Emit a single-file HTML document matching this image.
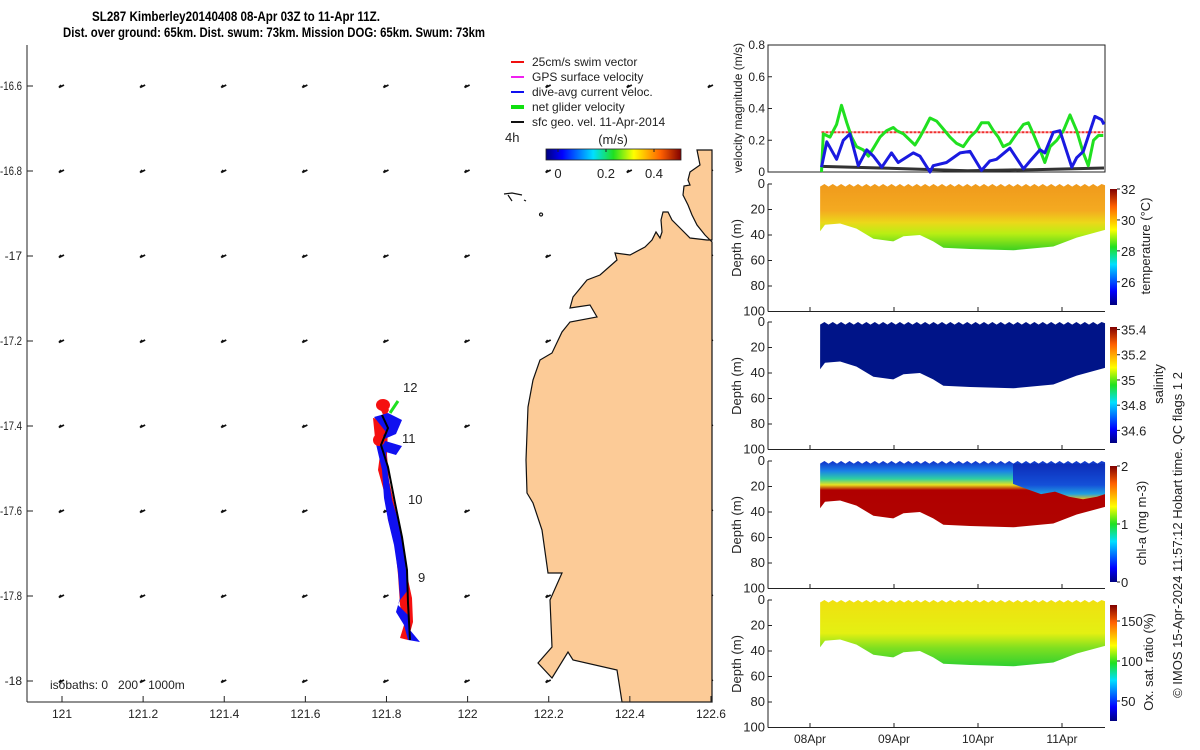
<!DOCTYPE html>
<html><head><meta charset="utf-8"><style>
body{margin:0;background:#fff;}
svg{display:block;font-family:"Liberation Sans",sans-serif;}
.t{font-size:13px;fill:#222;}
.s{font-size:12px;fill:#222;}
</style></head><body>
<svg id="fig" width="1200" height="750" viewBox="0 0 1200 750">
<defs>
<linearGradient id="jet" x1="0" y1="0" x2="1" y2="0">
<stop offset="0" stop-color="#00007f"/><stop offset="0.12" stop-color="#0000ff"/><stop offset="0.35" stop-color="#00dfff"/><stop offset="0.5" stop-color="#20e020"/><stop offset="0.65" stop-color="#ffff00"/><stop offset="0.85" stop-color="#ff6000"/><stop offset="1" stop-color="#800000"/></linearGradient>
<linearGradient id="jetv" x1="0" y1="1" x2="0" y2="0">
<stop offset="0" stop-color="#00007f"/><stop offset="0.12" stop-color="#0000ff"/><stop offset="0.35" stop-color="#00dfff"/><stop offset="0.5" stop-color="#20e020"/><stop offset="0.65" stop-color="#ffff00"/><stop offset="0.85" stop-color="#ff6000"/><stop offset="1" stop-color="#800000"/></linearGradient>
<linearGradient id="gTemp" x1="0" y1="0" x2="0" y2="1">
<stop offset="0" stop-color="#f09a1c"/><stop offset="0.4" stop-color="#f4aa20"/><stop offset="0.58" stop-color="#ecd81a"/><stop offset="0.75" stop-color="#b8ee14"/><stop offset="1" stop-color="#3cd020"/></linearGradient>
<linearGradient id="gChl" x1="0" y1="0" x2="0" y2="1">
<stop offset="0" stop-color="#1030c8"/><stop offset="0.15" stop-color="#1a80e8"/><stop offset="0.27" stop-color="#30d0a0"/><stop offset="0.36" stop-color="#e8e020"/><stop offset="0.44" stop-color="#b00000"/><stop offset="1" stop-color="#b00400"/></linearGradient>
<linearGradient id="gChl2" x1="0" y1="0" x2="0" y2="1">
<stop offset="0" stop-color="#0c2cb8"/><stop offset="0.6" stop-color="#1450d8"/><stop offset="0.85" stop-color="#20a0e0"/><stop offset="1" stop-color="#e8c020"/></linearGradient>
<linearGradient id="gOx" x1="0" y1="0" x2="0" y2="1">
<stop offset="0" stop-color="#f0e010"/><stop offset="0.5" stop-color="#e4f012"/><stop offset="0.72" stop-color="#80e020"/><stop offset="1" stop-color="#30d030"/></linearGradient>
</defs>

<text x="236" y="21" text-anchor="middle" font-weight="bold" font-size="14" textLength="288" lengthAdjust="spacingAndGlyphs">SL287 Kimberley20140408 08-Apr 03Z to 11-Apr 11Z.</text>
<text x="274" y="37" text-anchor="middle" font-weight="bold" font-size="14" textLength="422" lengthAdjust="spacingAndGlyphs">Dist. over ground: 65km. Dist. swum: 73km. Mission DOG: 65km. Swum: 73km</text>

<g id="map"></g>
<g id="vel"></g>
<g id="sect"></g>

<text transform="translate(1182,535) rotate(-90)" text-anchor="middle" class="t" font-size="13.5">© IMOS 15-Apr-2024 11:57:12 Hobart time. QC flags 1  2</text>
</svg>
<script>
// ---------- data ----------
const lonTicks=[121,121.2,121.4,121.6,121.8,122,122.2,122.4,122.6];
const latTicks=[-16.6,-16.8,-17,-17.2,-17.4,-17.6,-17.8,-18];
const greenT=[3.3,3.8,5.7,7.6,9.0,10.5,11.9,13.3,15.2,16.7,18.1,20,21.9,23.8,24.8,26.7,28.6,30,31.4,32.9,34.3,36.2,38.1,40,41.9,43.8,45.7,47.6,49,51,52.4,53.8,55.2,57.1,59,61,62.4,63.8,65.7,67.1,68.6,70.5,72.4,74.3,76.2,78.1,79.5,81,82.4,83.8];
const greenV=[0,0.24,0.22,0.3,0.42,0.31,0.22,0.16,0.14,0.1,0.15,0.22,0.26,0.28,0.26,0.24,0.2,0.17,0.22,0.28,0.34,0.32,0.27,0.22,0.18,0.16,0.22,0.26,0.31,0.31,0.26,0.22,0.16,0.18,0.24,0.3,0.31,0.24,0.14,0.06,0.16,0.2,0.26,0.36,0.26,0.12,0.04,0.2,0.23,0.23];
const blueT=[3.3,4.8,7.6,9.5,11.4,13.8,16.2,18.1,20.5,23.3,25.2,29.5,31.4,34.3,35.2,39,42.9,45.7,49,51.4,53.3,57.1,61,62.9,65.7,67.1,69.5,71.4,74.8,76.2,78.1,81.4,83.3,84];
const blueV=[0.03,0.19,0.08,0.2,0.24,0.04,0.14,0.1,0.03,0.12,0.06,0.12,0.1,0,0.04,0.06,0.12,0.13,0.01,0.07,0.08,0.15,0.02,0.07,0.14,0.12,0.25,0.26,0.03,0.09,0.13,0.35,0.33,0.3];
const geoT=[3.3,20,45,65,84];
const geoV=[0.035,0.025,0.008,0.015,0.025];
const swimV=0.25;
const velTicks=[0,0.2,0.4,0.6,0.8];
const depthTicks=[0,20,40,60,80,100];
const dayLabels=["08Apr","09Apr","10Apr","11Apr"];
const profT=[2.9,4.3,8.6,13.3,18.1,23.8,26.7,31.4,35.2,38.1,45.7,58.1,69.5,76.2,84.3];
const profD=[37,32,31,35,43,45,41,40,45,50,51,52,49,42,36];
const chlBlueT=[58,62,66,70,74,78,82,84.3];
const chlBlueD=[18,22,26,24,28,30,28,26];
const tempTicks=[26,28,30,32], salTicks=[34.6,34.8,35,35.2,35.4], chlTicks=[0,1,2], oxTicks=[50,100,150];

const NS="http://www.w3.org/2000/svg";
function mk(parent,tag,attrs,txt){const e=document.createElementNS(NS,tag);for(const k in attrs)e.setAttribute(k,attrs[k]);if(txt!==undefined)e.textContent=txt;parent.appendChild(e);return e;}

// ---------- map ----------
const map=document.getElementById('map');
const lx=l=>62+(l-121)*405.6, ly=l=>86+(-16.6-l)*425;
for(const lo of lonTicks){for(const la of latTicks){
 const x=lx(lo),y=ly(la);
 const q=mk(map,'path',{d:`M${x+2},${y-1} L${x-3},${y+1.5} M${x-3},${y+1.5} L${x-1},${y-1}`,stroke:'#111','stroke-width':1.8,fill:'none'});
 
 
}}
const land=mk(map,'path',{d:"M697,150 L700,165 L690,172 L688,180 L690,185 L684,186 L683,195 L688,205 L692,215 L697,225 L705,235 L712,242 L712,702 L622,702 L617,670 L573,660 L568,652 L552,678 L538,663 L552,647 L550,600 L562,573 L548,573 L542,530 L533,503 L527,493 L526,460 L527,433 L528,407 L533,380 L540,360 L552,353 L562,332 L570,322 L597,317 L590,305 L570,308 L573,297 L587,280 L600,275 L617,260 L615,253 L630,255 L645,247 L652,240 L656,232 L660,238 L662,232 L661,220 L663,212 L668,212 L672,220 L680,228 L690,238 L707,240 L712,240 L712,150 Z",fill:'#fccb97',stroke:'#111','stroke-width':1.2});


mk(map,'path',{d:"M504,194 L512,193 L522,195 M508,195 L512,201 M524,200 L526,201 M541,213 a1.5,1.5 0 1 0 0.1,0",fill:'none',stroke:'#111','stroke-width':1.2});
const trk=mk(map,'g',{});


mk(trk,'path',{d:"M377,402 L384,400 L389,410 L384,420 L373,418 L375,438 L381,447 L378,470 L385,495 L388,520 L395,545 L398,575 L400,605 L404,625 L400,638 L408,640 L413,622 L412,598 L406,570 L402,540 L396,512 L389,480 L387,455 L388,425 Z",fill:'#f51010'});
mk(trk,'path',{d:"M374,417 L388,413 L402,420 L396,434 L382,440 L402,446 L396,455 L386,452 L388,475 L392,500 L398,520 L404,550 L408,590 L400,600 L398,605 L408,615 L410,630 L420,642 L408,640 L404,625 L396,612 L400,598 L398,572 L394,545 L388,520 L384,498 L382,470 L376,444 L386,432 Z",fill:'#1010f0'});
mk(trk,'path',{d:"M376,405 a7,6 0 1 0 14,0 a7,6 0 1 0 -14,0",fill:'#f51010'});
mk(trk,'path',{d:"M373,440 a6,6 0 1 0 12,0 a6,6 0 1 0 -12,0",fill:'#f51010'});
mk(trk,'path',{d:"M382,415 L388,428 L381,445 L388,467 L395,503 L402,537 L407,570 L408,603 L410,640",fill:'none',stroke:'#000','stroke-width':2});
mk(trk,'line',{x1:390,y1:413,x2:398,y2:401,stroke:'#20e020','stroke-width':3});
[["12",403,392],["11",402,443],["10",408,504],["9",418,582]].forEach(a=>{const t=mk(map,'text',{x:a[1],y:a[2],class:'t'},a[0]);});
mk(map,'line',{x1:27,y1:45,x2:27,y2:702,stroke:'#222'});
mk(map,'line',{x1:27,y1:702,x2:712,y2:702,stroke:'#222'});
for(const lo of lonTicks){const x=lx(lo);mk(map,'line',{x1:x,y1:702,x2:x,y2:696,stroke:'#222'});
 const t=mk(map,'text',{x:x,y:718,'text-anchor':'middle',class:'s'},String(lo));
 
 }
for(const la of latTicks){const y=ly(la);mk(map,'line',{x1:27,y1:y,x2:33,y2:y,stroke:'#222'});
 const s=String(la);
 const t=mk(map,'text',{x:22,y:y+4,'text-anchor':'end',class:'s'},s);
 if(s.length>3){t.setAttribute('textLength','22');t.setAttribute('lengthAdjust','spacingAndGlyphs');}
 
 }
const iso=mk(map,'text',{x:50,y:689,class:'s',style:'white-space:pre'},"isobaths: 0   200   1000m");


const leg=[["#f01010","25cm/s swim vector",2],["#f020f0","GPS surface velocity",2],["#1010f0","dive-avg current veloc.",2],["#10e010","net glider velocity",4],["#111","sfc geo. vel. 11-Apr-2014",2]];
leg.forEach((l,i)=>{const y=62+i*15;const g=mk(map,'g',{});
 
 
 mk(g,'line',{x1:511,y1:y,x2:524,y2:y,stroke:l[0],'stroke-width':l[2]});
 mk(g,'text',{x:532,y:y+4,class:'s'},l[1]);});
mk(map,'text',{x:505,y:142,class:'t'},"4h");
mk(map,'text',{x:613,y:144,'text-anchor':'middle',class:'t','font-size':15},"(m/s)");
const cb=mk(map,'rect',{x:546,y:149,width:135,height:11,fill:'url(#jet)',stroke:'#222','stroke-width':0.8});


[["0",558],["0.2",606],["0.4",654]].forEach(a=>{mk(map,'text',{x:a[1],y:178,'text-anchor':'middle',class:'t'},a[0]);mk(map,'line',{x1:a[1],y1:149,x2:a[1],y2:152,stroke:'#222'});});

// ---------- velocity panel ----------
const vel=document.getElementById('vel');
const tx=t=>810+t*3.5;
const vy=v=>172-v/0.8*127;
mk(vel,'rect',{x:768,y:45,width:337,height:127,fill:'none',stroke:'#222'});
for(const v of velTicks){mk(vel,'line',{x1:768,y1:vy(v),x2:772,y2:vy(v),stroke:'#222'});
 const t=mk(vel,'text',{x:765,y:vy(v)+4,'text-anchor':'end',class:'s'},String(v));
 
 }
const vl=mk(vel,'text',{transform:'translate(742,108) rotate(-90)','text-anchor':'middle',class:'s'},"velocity magnitude (m/s)");


function line(ts,vs,col,w,name,dash){const p=ts.map((t,i)=>(i?'L':'M')+tx(t).toFixed(1)+','+vy(vs[i]).toFixed(1)).join(' ');
 const e=mk(vel,'path',{d:p,fill:'none',stroke:col,'stroke-width':w,'stroke-linejoin':'round'});if(dash)e.setAttribute('stroke-dasharray',dash);
 
 }
line([greenT[0],greenT[greenT.length-1]],[swimV,swimV],'#f03030',2,'swim-speed-line','3,1');
line(geoT,geoV,'#333',3,'geo-velocity-line');
line(greenT,greenV,'#20e020',3,'net-glider-velocity-line');
line(blueT,blueV,'#1a1ae0',3,'dive-avg-current-line');

// ---------- section panels ----------
const sect=document.getElementById('sect');
const panels=[{top:184,fill:'url(#gTemp)',ticks:tempTicks,lo:24.5,hi:32,label:"temperature (°C)",lx:1150,name:'temperature'},
 {top:322,fill:'#001488',ticks:salTicks,lo:34.5,hi:35.42,label:"salinity",lx:1163,name:'salinity'},
 {top:461,fill:'url(#gChl)',ticks:chlTicks,lo:0,hi:2,label:"chl-a (mg m-3)",lx:1146,name:'chlorophyll'},
 {top:600,fill:'url(#gOx)',ticks:oxTicks,lo:25,hi:170,label:"Ox. sat. ratio (%)",lx:1153,name:'oxygen'}];
panels.forEach((P,pi)=>{
 const g=mk(sect,'g',{});
 
 
 const dy=d=>P.top+d*1.275;
 let d='M'+tx(profT[0])+','+dy(1);
 for(let t=profT[0];t<84.3;t+=1.2){d+=' L'+tx(t).toFixed(1)+','+dy((Math.round(t/1.2)%2)?0:2).toFixed(1);}
 d+=' L'+tx(84.3)+','+dy(1);
 for(let i=profT.length-1;i>=0;i--)d+=' L'+tx(profT[i]).toFixed(1)+','+dy(profD[i]).toFixed(1);
 d+=' Z';
 const area=mk(g,'path',{d:d,fill:P.fill});
 
 
 if(P.name==='chlorophyll'){
  let d2='M'+tx(chlBlueT[0])+','+dy(2);
  d2+=' L'+tx(84.3)+','+dy(2);
  for(let i=chlBlueT.length-1;i>=0;i--)d2+=' L'+tx(chlBlueT[i]).toFixed(1)+','+dy(chlBlueD[i]).toFixed(1);
  d2+=' Z';
  const ov=mk(g,'path',{d:d2,fill:'url(#gChl2)'});
  
  
 }
 mk(g,'line',{x1:768,y1:P.top,x2:768,y2:P.top+127.5,stroke:'#222'});
 mk(g,'line',{x1:768,y1:P.top+127.5,x2:1105,y2:P.top+127.5,stroke:'#222'});
 for(const dt of depthTicks){mk(g,'line',{x1:768,y1:dy(dt),x2:772,y2:dy(dt),stroke:'#222'});
  const t=mk(g,'text',{x:765,y:dy(dt)+4,'text-anchor':'end',class:'t'},String(dt));
  
  }
 for(let k=0;k<dayLabels.length;k++){mk(g,'line',{x1:tx(k*24),y1:P.top+127.5,x2:tx(k*24),y2:P.top+123,stroke:'#222'});}
 const yl=mk(g,'text',{transform:`translate(741,${P.top+64}) rotate(-90)`,'text-anchor':'middle',class:'t'},"Depth (m)");
 
 
 const cbTop=P.top+5,cbH=116;
 const c=mk(g,'rect',{x:1110,y:cbTop,width:7,height:cbH,fill:'url(#jetv)'});
 
 
 for(const v of P.ticks){const y=cbTop+cbH-(v-P.lo)/(P.hi-P.lo)*cbH;
  mk(g,'line',{x1:1117,y1:y,x2:1120,y2:y,stroke:'#222'});
  const t=mk(g,'text',{x:1121,y:y+5,class:'t'},String(v));
  
  }
 const cl=mk(g,'text',{transform:`translate(${P.lx},${P.top+62}) rotate(-90)`,'text-anchor':'middle',class:'t','font-size':13.5},P.label);
 
 
});
dayLabels.forEach((s,k)=>{const t=mk(sect,'text',{x:tx(k*24),y:743,'text-anchor':'middle',class:'s'},s);
 
 });
</script>
</body></html>
